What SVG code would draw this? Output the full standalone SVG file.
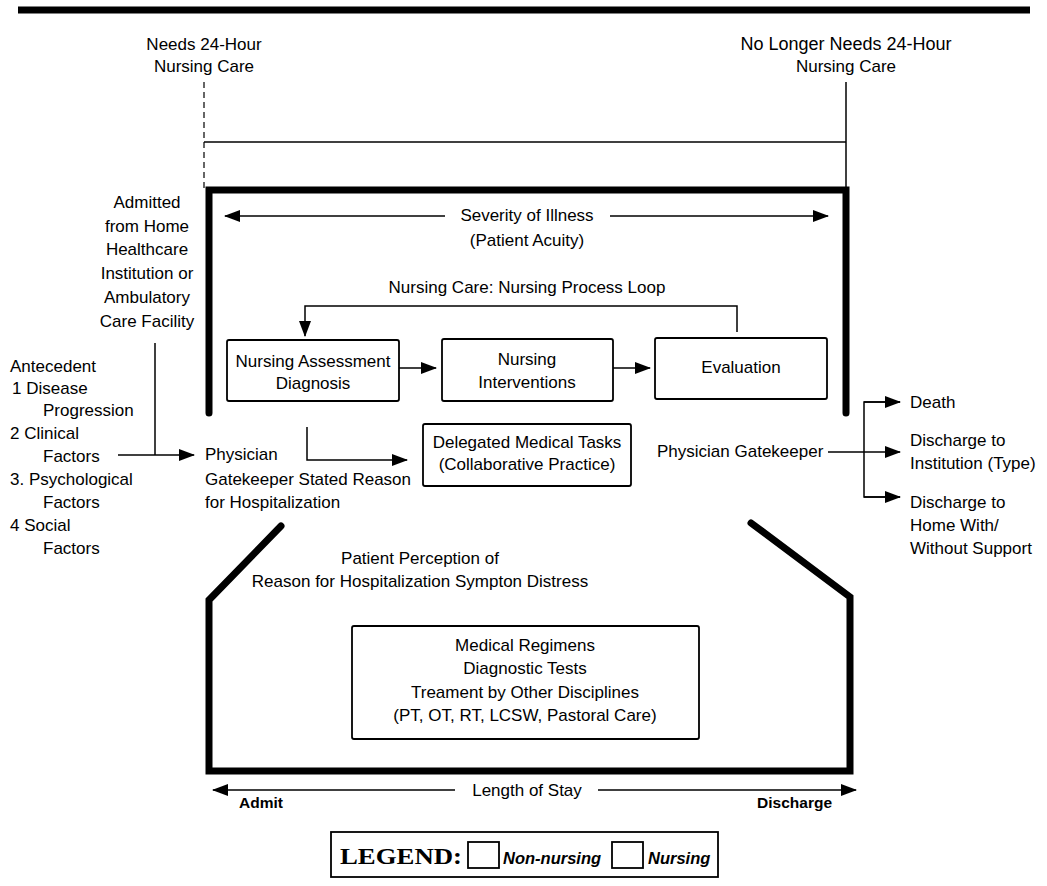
<svg xmlns="http://www.w3.org/2000/svg" width="1047" height="886" viewBox="0 0 1047 886">
<style>
text{font-family:"Liberation Sans",Arial,sans-serif;font-size:17px;fill:#000}
.c{text-anchor:middle}
.thin{fill:none;stroke:#000;stroke-width:1.5}
.thick{fill:none;stroke:#000;stroke-width:7;stroke-linecap:round;stroke-linejoin:miter}
.box{fill:#fff;stroke:#000;stroke-width:1.8}
.b{font-weight:bold;font-size:15.5px}
.hd{font-size:18px}
.leg{font-family:"Liberation Serif","Times New Roman",serif;font-weight:bold;font-size:24px}
.li{font-size:16.5px;font-style:italic;font-weight:bold}
</style>
<defs>
<marker id="ah" markerWidth="16" markerHeight="12" refX="15" refY="6" orient="auto" markerUnits="userSpaceOnUse">
<path d="M0,0 L16,6 L0,12 Z" fill="#000"/>
</marker>
</defs>
<rect width="1047" height="886" fill="#fff"/>
<line x1="18" y1="10" x2="1030" y2="10" stroke="#000" stroke-width="7"/>

<g id="header-left">
<text class="c" x="204" y="50">Needs 24-Hour</text>
<text class="c" x="204" y="72">Nursing Care</text>
</g>
<g id="header-right">
<text class="c hd" x="846" y="50">No Longer Needs 24-Hour</text>
<text class="c" x="846" y="72">Nursing Care</text>
</g>

<g id="frames">
<line x1="204" y1="82" x2="204" y2="188" stroke="#000" stroke-width="1.2" stroke-dasharray="6,4"/>
<line x1="846" y1="82" x2="846" y2="188" class="thin"/>
<line x1="204" y1="142" x2="846" y2="142" class="thin"/>
<polyline class="thick" points="209,413 209,190 846,190 846,413"/>
<polyline class="thick" points="281,526 209,600 209,771 850,771 850,597 751,523"/>
</g>

<g id="severity">
<text class="c" x="527" y="221">Severity of Illness</text>
<text class="c" x="527" y="246">(Patient Acuity)</text>
</g>

<g id="admitted">
<text class="c" x="147" y="208">Admitted</text>
<text class="c" x="147" y="232">from Home</text>
<text class="c" x="147" y="255">Healthcare</text>
<text class="c" x="147" y="279">Institution or</text>
<text class="c" x="147" y="303">Ambulatory</text>
<text class="c" x="147" y="327">Care Facility</text>
</g>

<g id="antecedent">
<text x="10" y="372">Antecedent</text>
<text x="12" y="394">1  Disease</text>
<text x="43" y="416">Progression</text>
<text x="10" y="439">2  Clinical</text>
<text x="43" y="462">Factors</text>
<text x="10" y="485">3. Psychological</text>
<text x="43" y="508">Factors</text>
<text x="10" y="531">4  Social</text>
<text x="43" y="554">Factors</text>
</g>

<g id="physician-stated">
<text x="205" y="460">Physician</text>
<text x="205" y="485">Gatekeeper Stated Reason</text>
<text x="205" y="508">for Hospitalization</text>
</g>

<g id="loop-label">
<text class="c" x="527" y="293">Nursing Care: Nursing Process Loop</text>
</g>

<g id="nursing-assessment">
<rect class="box" x="227" y="340" width="172" height="61" rx="2"/>
<text class="c" x="313" y="367">Nursing Assessment</text>
<text class="c" x="313" y="389">Diagnosis</text>
</g>
<g id="nursing-interventions">
<rect class="box" x="442" y="339" width="171" height="62" rx="2"/>
<text class="c" x="527" y="365">Nursing</text>
<text class="c" x="527" y="388">Interventions</text>
</g>
<g id="evaluation">
<rect class="box" x="655" y="338" width="172" height="61" rx="2"/>
<text class="c" x="741" y="373">Evaluation</text>
</g>
<g id="delegated">
<rect class="box" x="423" y="424" width="208" height="62" rx="2"/>
<text class="c" x="527" y="448">Delegated Medical Tasks</text>
<text class="c" x="527" y="470">(Collaborative Practice)</text>
</g>

<g id="physician-gatekeeper">
<text x="657" y="457">Physician Gatekeeper</text>
</g>

<g id="outcomes">
<text x="910" y="408">Death</text>
<text x="910" y="446">Discharge to</text>
<text x="910" y="469">Institution (Type)</text>
<text x="910" y="508">Discharge to</text>
<text x="910" y="531">Home With/</text>
<text x="910" y="554">Without Support</text>
</g>

<g id="perception">
<text class="c" x="420" y="564">Patient Perception of</text>
<text class="c" x="420" y="587">Reason for Hospitalization Sympton Distress</text>
</g>

<g id="medical">
<rect class="box" x="352" y="626" width="347" height="113" rx="2"/>
<text class="c" x="525" y="651">Medical Regimens</text>
<text class="c" x="525" y="674">Diagnostic Tests</text>
<text class="c" x="525" y="698">Treament by Other Disciplines</text>
<text class="c" x="525" y="721">(PT, OT, RT, LCSW, Pastoral Care)</text>
</g>

<g id="length-of-stay">
<text class="c" x="527" y="796">Length of Stay</text>
<text class="b" x="239" y="808">Admit</text>
<text class="b" x="832" y="808" text-anchor="end">Discharge</text>
</g>

<g id="legend">
<rect class="box" x="331" y="832" width="387" height="45"/>
<text class="leg" x="340" y="864" textLength="122" lengthAdjust="spacingAndGlyphs">LEGEND:</text>
<rect class="box" x="468" y="842" width="31" height="26"/>
<text class="li" x="503" y="864">Non-nursing</text>
<rect class="box" x="612" y="842" width="31" height="26"/>
<text class="li" x="648" y="864">Nursing</text>
</g>

<g id="connectors">
<line class="thin" x1="445" y1="216" x2="225" y2="216" marker-end="url(#ah)"/>
<line class="thin" x1="610" y1="216" x2="828" y2="216" marker-end="url(#ah)"/>
<polyline class="thin" points="737,332 737,306 305,306 305,336" marker-end="url(#ah)"/>
<line class="thin" x1="399" y1="368" x2="436" y2="368" marker-end="url(#ah)"/>
<line class="thin" x1="613" y1="368" x2="650" y2="368" marker-end="url(#ah)"/>
<polyline class="thin" points="307,427 307,460 407,460" marker-end="url(#ah)"/>
<line class="thin" x1="155" y1="343" x2="155" y2="455"/>
<line class="thin" x1="118" y1="455" x2="194" y2="455" marker-end="url(#ah)"/>
<line class="thin" x1="828" y1="452" x2="900" y2="452" marker-end="url(#ah)"/>
<polyline class="thin" points="900,402 864,402 864,497 900,497"/>
<line class="thin" x1="864" y1="402" x2="900" y2="402" marker-end="url(#ah)"/>
<line class="thin" x1="864" y1="497" x2="900" y2="497" marker-end="url(#ah)"/>
<line class="thin" x1="455" y1="790" x2="213" y2="790" marker-end="url(#ah)"/>
<line class="thin" x1="598" y1="790" x2="856" y2="790" marker-end="url(#ah)"/>
</g>
</svg>
